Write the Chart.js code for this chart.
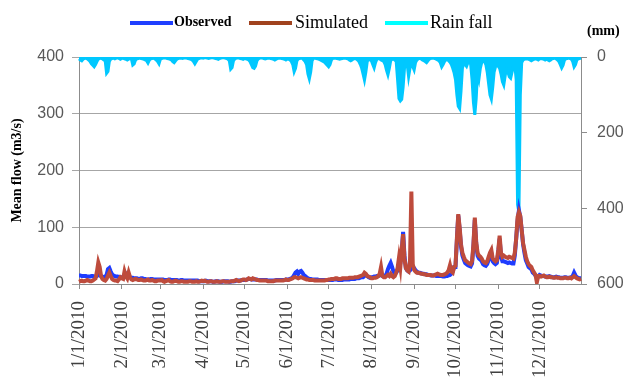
<!DOCTYPE html>
<html>
<head>
<meta charset="utf-8">
<script src="https://cdn.jsdelivr.net/npm/chart.js@4.4.0/dist/chart.umd.min.js"></script>
<style>
  body { margin: 0; background: #fff; }
  #wrap { position: relative; width: 625px; height: 389px; }
  .key { position: absolute; height: 4px; top: 21px; }
  .lab { position: absolute; font-family: "Liberation Serif", serif; color: #000; line-height: 1; }
</style>
</head>
<body>
<div id="wrap">
  <canvas id="flowChart" width="625" height="389"></canvas>
  <div class="key" style="left:130px;width:43px;background:#1f3fff"></div>
  <div class="lab" style="left:174px;top:15px;font-size:14px;font-weight:bold">Observed</div>
  <div class="key" style="left:249px;width:43px;background:#a0421e"></div>
  <div class="lab" style="left:295px;top:13px;font-size:18px">Simulated</div>
  <div class="key" style="left:385px;width:43px;background:#00ffff"></div>
  <div class="lab" style="left:430px;top:13px;font-size:18px">Rain fall</div>
  <div class="lab" style="left:587px;top:24px;font-size:14px;font-weight:bold">(mm)</div>
</div>
<script>
// daily values for 2010, one row per month
const monthDays = [31, 28, 31, 30, 31, 30, 31, 31, 30, 31, 30, 31];

const observed = [
  15,15,14,14,14,14,13,13,13,14,14,13,13,14,16,15,14,13,12,13,16,26,28,22,17,15,14,13,13,12,12,
  12,12,13,18,15,13,12,11,11,10,10,10,9,9,10,10,9,9,8,8,8,9,9,8,8,8,8,8,
  8,8,8,7,7,7,8,8,7,7,7,7,7,6,6,7,7,6,6,6,6,6,6,6,6,6,6,6,5,5,5,
  5,5,6,5,5,5,5,4,4,5,5,5,4,4,4,5,5,5,5,4,4,5,5,5,6,6,6,6,7,7,
  7,7,8,9,9,8,8,8,8,8,7,7,7,7,7,7,7,6,6,6,6,6,6,7,7,7,7,7,7,7,8,
  8,8,9,10,12,16,20,22,18,22,23,20,16,14,12,10,9,9,8,8,8,8,8,7,7,7,7,7,7,7,
  7,7,7,7,8,8,8,7,7,7,7,8,8,8,8,8,9,9,9,9,10,10,10,11,12,12,14,16,14,12,11,
  12,12,13,13,14,14,15,16,14,13,14,18,26,32,37,30,22,18,20,24,30,36,55,92,50,28,24,22,24,28,30,
  28,24,22,20,20,19,18,18,17,17,16,16,15,15,15,15,14,14,14,14,14,13,13,14,14,15,16,18,22,30,
  30,76,121,96,66,50,43,37,35,33,32,31,36,66,113,71,50,45,43,40,35,33,32,35,42,48,54,40,37,35,37,
  55,80,48,40,40,39,38,37,38,37,36,36,50,80,110,130,118,95,70,55,42,36,30,28,26,20,18,15,12,13,
  16,15,14,14,13,13,13,14,13,12,12,12,13,12,12,11,11,11,12,12,11,11,11,12,14,20,15,12,11,10,10
];

const simulated = [
  4,5,6,5,5,6,7,6,5,5,6,8,10,22,38,30,14,9,7,6,9,15,20,14,9,7,6,6,5,8,12,
  10,9,22,14,10,20,12,8,7,8,9,8,7,7,8,7,6,6,7,8,6,6,7,6,5,5,6,6,
  6,7,5,4,5,6,7,5,4,4,5,6,5,4,4,5,5,4,4,4,4,5,5,4,4,4,5,4,4,5,6,
  5,6,5,4,4,5,5,4,4,4,5,4,4,4,5,5,4,4,4,4,5,5,5,6,7,6,5,6,7,8,
  8,7,8,10,9,8,10,9,8,7,7,6,6,6,6,6,6,5,5,5,5,5,6,6,6,6,6,6,6,7,8,
  7,7,8,9,10,12,12,11,10,11,12,11,10,9,8,8,7,7,7,7,6,6,6,6,6,6,6,6,7,7,
  8,8,9,9,9,10,10,9,9,9,10,10,10,10,10,11,11,11,11,12,12,12,13,14,15,16,20,18,14,13,12,
  10,10,11,11,12,14,18,30,14,12,12,14,16,14,18,14,12,14,20,28,46,30,60,88,45,28,24,22,40,163,35,
  25,22,20,20,19,18,18,17,17,16,16,16,16,15,15,16,17,18,17,16,16,16,17,18,20,24,33,22,20,30,
  32,80,123,100,70,55,48,42,40,38,36,35,40,70,117,75,55,50,48,45,40,38,37,40,48,55,60,45,42,40,42,
  60,85,55,48,50,48,47,46,48,47,46,45,55,80,118,127,120,95,72,60,48,40,35,32,30,24,20,16,3,14,
  14,13,14,15,13,12,12,13,12,12,11,11,12,11,11,10,10,10,11,11,10,10,11,10,12,14,12,10,9,8,9
];

const rainfall = [
  5,8,10,6,4,3,5,8,12,18,22,26,20,12,6,4,3,5,8,10,43,38,12,6,4,3,5,3,2,4,6,
  4,3,5,6,8,6,4,5,21,18,8,5,4,3,4,5,6,8,10,16,8,5,4,3,5,8,12,18,
  6,4,3,2,3,4,5,6,8,12,15,10,6,4,3,3,4,3,2,3,4,5,6,8,12,18,12,6,4,3,2,
  3,2,2,3,4,3,2,2,3,4,5,6,4,3,2,2,3,4,6,10,32,28,10,5,3,2,3,4,5,6,
  4,5,6,8,12,20,28,30,24,10,5,3,2,3,4,5,4,3,3,4,5,6,8,6,4,3,3,4,5,6,8,
  5,6,8,12,20,39,30,10,5,4,3,4,8,12,20,45,58,40,10,4,3,4,5,6,8,10,12,14,18,22,
  26,20,8,4,3,3,4,5,6,5,4,3,3,4,5,8,10,8,5,4,5,8,12,20,30,45,61,40,12,6,8,
  10,20,29,15,6,4,5,8,10,12,20,35,47,30,10,6,5,8,12,60,110,116,112,80,30,15,20,52,30,12,25,
  34,15,8,5,3,5,8,10,12,15,10,6,4,3,3,4,6,8,10,15,26,20,12,8,6,10,14,20,30,42,
  60,100,130,136,90,30,15,20,25,15,10,20,60,120,153,110,40,58,30,15,10,12,20,40,70,100,111,80,40,26,20,
  25,30,45,65,74,50,30,40,52,56,40,25,20,60,390,410,100,15,8,6,5,5,6,8,10,8,6,5,6,8,
  5,4,5,6,8,6,8,10,8,5,4,3,5,8,12,20,29,22,8,5,4,3,4,6,12,26,20,8,5,4,3
];

const flowTicks = [0, 100, 200, 300, 400];
const rainTicks = [0, 200, 400, 600];

const dayLabels = [];
monthDays.forEach((n, m) => {
  for (let d = 1; d <= n; d++) dayLabels.push(`${m + 1}/${d}/2010`);
});

const axisGrey = "#8c8c8c";
const ctx = document.getElementById("flowChart").getContext("2d");

new Chart(ctx, {
  type: "line",
  data: {
    labels: dayLabels,
    datasets: [
      {
        label: "Simulated",
        data: simulated,
        borderColor: "#be4b3c",
        borderWidth: 4,
        pointRadius: 0,
        yAxisID: "y",
        order: 0,
      },
      {
        label: "Observed",
        data: observed,
        borderColor: "#1e3cff",
        borderWidth: 4,
        pointRadius: 0,
        yAxisID: "y",
        order: 1,
      },
      {
        label: "Rain fall",
        data: rainfall,
        borderColor: "#00c8ff",
        backgroundColor: "#00c8ff",
        borderWidth: 3,
        pointRadius: 0,
        fill: "origin",
        yAxisID: "y2",
        order: 2,
      },
    ],
  },
  options: {
    responsive: false,
    animation: false,
    layout: { padding: { top: 57 } },
    plugins: { legend: { display: false }, tooltip: { enabled: false } },
    scales: {
      x: {
        grid: { drawOnChartArea: false, tickLength: 5, color: axisGrey },
        border: { color: axisGrey },
        ticks: {
          autoSkip: false,
          minRotation: 90,
          maxRotation: 90,
          padding: 12,
          color: "#404040",
          font: { family: "Liberation Serif", size: 19 },
          callback: function (value) {
            const lab = this.getLabelForValue(value);
            return lab.split("/")[1] === "1" ? lab : null;
          },
        },
        afterFit: (scale) => { scale.height = 105; },
      },
      y: {
        position: "left",
        min: flowTicks[0],
        max: flowTicks[flowTicks.length - 1],
        afterBuildTicks: (scale) => { scale.ticks = flowTicks.map((v) => ({ value: v })); },
        ticks: { color: "#595959", padding: 8, font: { family: "Liberation Sans", size: 16 } },
        grid: { color: "#a6a6a6", tickLength: 7 },
        border: { color: axisGrey },
        title: {
          display: true,
          text: "Mean flow (m3/s)",
          color: "#000",
          font: { family: "Liberation Serif", size: 14, weight: "bold" },
          padding: { top: 9, bottom: 0 },
        },
        afterFit: (scale) => { scale.width = 79; },
      },
      y2: {
        position: "right",
        reverse: true,
        min: rainTicks[0],
        max: rainTicks[rainTicks.length - 1],
        afterBuildTicks: (scale) => { scale.ticks = rainTicks.map((v) => ({ value: v })); },
        ticks: { color: "#595959", padding: 10, font: { family: "Liberation Sans", size: 16 } },
        grid: { drawOnChartArea: false, tickLength: 6, color: axisGrey },
        border: { color: axisGrey },
        afterFit: (scale) => { scale.width = 44; },
      },
    },
  },
});
</script>
</body>
</html>
